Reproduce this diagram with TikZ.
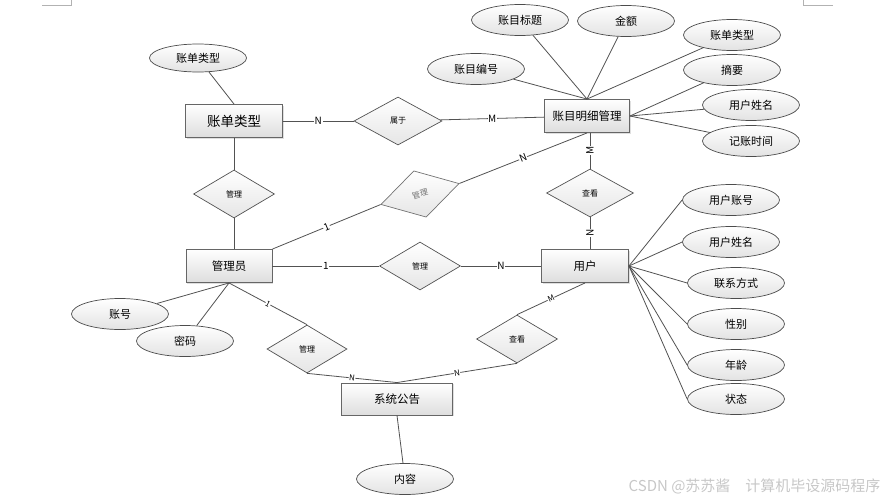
\documentclass[tikz,border=0pt]{standalone}
\usepackage{fontspec}
\setmainfont{Noto Sans CJK SC}
\usepackage{tikz}
\usetikzlibrary{shapes.geometric,shadows}
\tikzstyle{edge}=[draw=black!68, line width=0.8pt]
\tikzstyle{entity}=[rectangle, draw=black!60, line width=0.9pt, top color=white, bottom color=black!13, minimum width=86pt, minimum height=33pt, inner sep=0pt, font=\fontsize{11.5}{12}\selectfont, drop shadow={shadow xshift=1.2pt, shadow yshift=-1.2pt, opacity=0.25}]
\tikzstyle{attr}=[ellipse, draw=black!70, line width=0.7pt, top color=white, bottom color=black!11, minimum width=97pt, minimum height=31pt, inner sep=0pt, font=\fontsize{11}{12}\selectfont]
\tikzstyle{rel}=[diamond, draw=black!68, line width=0.7pt, top color=white, bottom color=black!10, minimum width=81pt, minimum height=48pt, inner sep=0pt, font=\fontsize{8}{9}\selectfont]
\tikzstyle{card}=[fill=white, inner sep=0.6pt, font=\fontsize{10}{10}\selectfont]
\tikzstyle{cardS}=[fill=white, inner sep=0.4pt, font=\fontsize{8}{8}\selectfont]

\begin{document}
\begin{tikzpicture}[x=1pt, y=-1pt]
        \useasboundingbox (0,0) rectangle (886,501);
        % page corner marks
        \draw[black!30, line width=0.6pt] (42,5) -- (71,5) -- (71,0);
        \draw[black!30, line width=0.6pt] (833,5) -- (803,5) -- (803,0);
        % entities
        \node(bt) [entity, minimum width=97pt, font=\fontsize{13.5}{14}\selectfont] at (234, 121){账单类型};
        \node(mx) [entity, minimum width=85pt] at (587, 116){账目明细管理};
        \node(mgr) [entity] at (229, 266){管理员};
        \node(user) [entity, minimum width=87pt] at (585, 266){用户};
        \node(sys) [entity, minimum width=111pt, minimum height=32pt] at (397, 399){系统公告};
        % relations
        \node(r0) [rel, minimum width=88pt] at (398, 121){属于};
        \node(r1) [rel] at (234, 194){管理};
        \node(r2) [rel, rotate=15, draw=black!55, text=black!55] at (420, 194){管理};
        \node(r3) [rel, minimum width=87pt] at (590, 193){查看};
        \node(r6) [rel] at (420, 266){管理};
        \node(r4) [rel, minimum width=80pt] at (307, 349){管理};
        \node(r5) [rel] at (517, 339){查看};
        % attributes
        \node(a0) [attr, minimum height=28pt] at (198, 58){账单类型};
        \node(a1) [attr] at (520, 20){账目标题};
        \node(a2) [attr] at (626, 21){金额};
        \node(a3) [attr] at (732, 35){账单类型};
        \node(a4) [attr] at (476, 69){账目编号};
        \node(a5) [attr] at (732, 70){摘要};
        \node(a6) [attr] at (751, 105){用户姓名};
        \node(a7) [attr] at (751, 141){记账时间};
        \node(b1) [attr] at (120, 314){账号};
        \node(b2) [attr] at (185, 341){密码};
        \node(c1) [attr] at (405, 479){内容};
        \node(u1) [attr] at (731, 200){用户账号};
        \node(u2) [attr] at (731, 242){用户姓名};
        \node(u3) [attr] at (736, 283){联系方式};
        \node(u4) [attr] at (736, 324){性别};
        \node(u5) [attr] at (736, 365){年龄};
        \node(u6) [attr] at (736, 399){状态};
        % relation lines
        \draw[edge] (bt) to node[card]{N} (r0);
        \draw[edge] (r0) to node[card]{M} (mx);
        \draw[edge] (bt) to (r1);
        \draw[edge] (r1.south) to (r1.south |- mgr.north);
        \draw[edge] (mgr.north east) to node[card, sloped]{1} (r2.west);
        \draw[edge] (r2.east) to node[card, sloped]{N} (mx.south);
        \draw[edge] (r3.north) to node[card, rotate=90]{M} (r3.north |- mx.south);
        \draw[edge] (r3.south) to node[card, rotate=90]{N} (r3.south |- user.north);
        \draw[edge] (mgr) to node[card]{1} (r6);
        \draw[edge] (r6) to node[card]{N} (user);
        \draw[edge] (mgr.south) to node[cardS, sloped]{1} (r4.north);
        \draw[edge] (r4.south) to node[cardS, sloped]{N} (sys.north);
        \draw[edge] (r5.south) to node[cardS, sloped]{N} (sys.north);
        \draw[edge] (r5.north) to node[cardS, sloped]{M} (user.south);
        % attribute lines
        \draw[edge] (a0) to (bt.north);
        \foreach \a in {a1,a2,a3,a4} \draw[edge] (\a) to (mx.north);
        \foreach \a in {a5,a6,a7} \draw[edge] (\a) to (mx.east);
        \draw[edge] (b1) to (mgr.south);
        \draw[edge] (b2) to (mgr.south);
        \draw[edge] (sys.south) to (c1);
        \foreach \a in {u1,u2,u3,u4,u5,u6} \draw[edge] (\a.west) to (user.east);
        % watermark
        \node(wm) [text=black!22, font=\fontsize{15}{16}\selectfont, anchor=east] at (884, 486){CSDN @苏苏酱\quad 计算机毕设源码程序};
     \end{tikzpicture}
\end{document}
